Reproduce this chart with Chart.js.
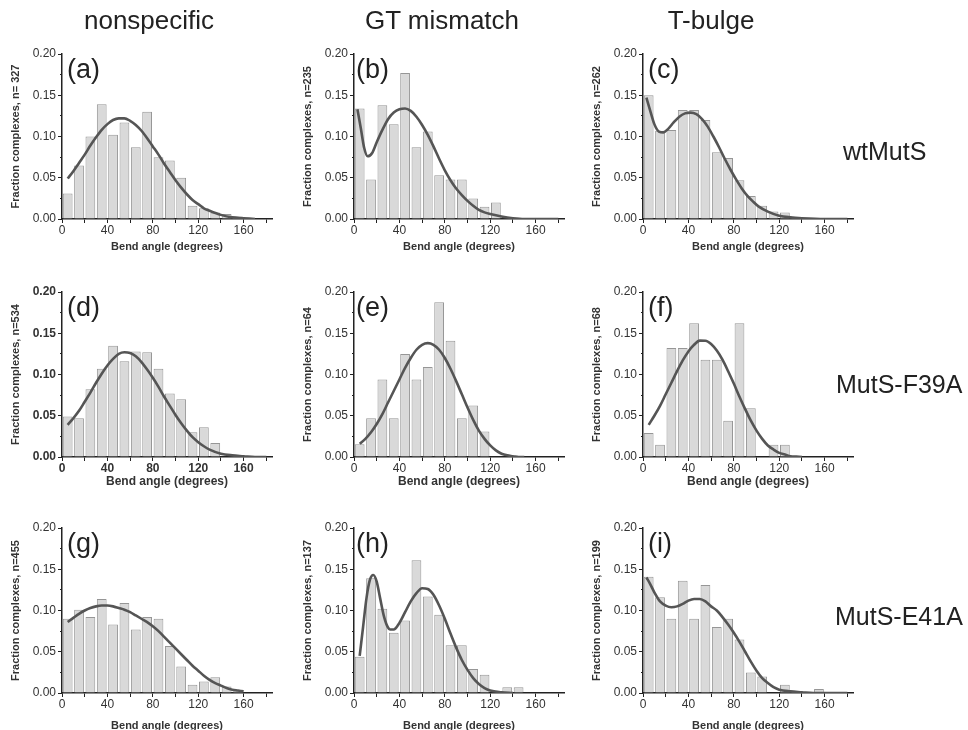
<!DOCTYPE html>
<html><head><meta charset="utf-8">
<script src="https://cdn.jsdelivr.net/npm/chart.js@4.4.0/dist/chart.umd.min.js"></script>
<style>
html,body{margin:0;padding:0;background:#fff;width:968px;height:730px;overflow:hidden;position:relative;font-family:"Liberation Sans",Arial,sans-serif;}
canvas{position:absolute;}
.lbl{position:absolute;color:#222;white-space:nowrap;line-height:1;}
</style></head><body>
<script>
// ---- data ----
const binCenters = [5,15,25,35,45,55,65,75,85,95,105,115,125,135,145,155,165,175];
const columnTitles = ["nonspecific","GT mismatch","T-bulge"];
const rowTitles = ["wtMutS","MutS-F39A","MutS-E41A"];
const panelLetters = ["(a)","(b)","(c)","(d)","(e)","(f)","(g)","(h)","(i)"];
const sampleSizes = ["n= 327","n=235","n=262","n=534","n=64","n=68","n=455","n=137","n=199"];
const xTitle = "Bend angle (degrees)";

const barsA = [0.031,0.065,0.100,0.139,0.102,0.117,0.087,0.130,0.075,0.071,0.050,0.016,0.013,0.008,0.006,0.003,0,0];
const barsB = [0.134,0.048,0.138,0.115,0.177,0.087,0.106,0.053,0.048,0.048,0.025,0.015,0.020,0,0,0,0,0];
const barsC = [0.150,0.107,0.108,0.132,0.132,0.120,0.081,0.074,0.047,0.028,0.016,0.009,0.008,0,0,0,0,0];
const barsD = [0.049,0.047,0.082,0.107,0.135,0.116,0.128,0.127,0.107,0.077,0.070,0.030,0.036,0.017,0,0,0,0];
const barsE = [0.0156,0.047,0.094,0.047,0.125,0.094,0.109,0.1875,0.141,0.047,0.0625,0.031,0,0,0,0,0,0];
const barsF = [0.029,0.015,0.132,0.132,0.162,0.118,0.118,0.044,0.162,0.059,0,0.015,0.015,0,0,0,0,0];
const barsG = [0.090,0.101,0.092,0.114,0.083,0.109,0.077,0.092,0.090,0.057,0.032,0.010,0.014,0.019,0.008,0.002,0,0];
const barsH = [0.044,0.139,0.102,0.073,0.088,0.161,0.117,0.095,0.058,0.058,0.029,0.022,0,0.007,0.007,0,0,0];
const barsI = [0.141,0.116,0.090,0.136,0.090,0.131,0.080,0.090,0.065,0.025,0.020,0,0.010,0,0,0.005,0,0];

const curveXA = [5,10,15,20,25,30,35,40,45,50,55,60,65,70,75,80,85,90,95,100,105,110,115,120,125,130,140,150,160,170];
const curveYA = [0.049,0.058,0.068,0.078,0.089,0.099,0.108,0.115,0.120,0.122,0.122,0.119,0.114,0.107,0.098,0.088,0.078,0.067,0.057,0.047,0.038,0.030,0.023,0.018,0.013,0.010,0.005,0.002,0.001,0];
const curveXB = [3,6,9,12,16,20,25,30,35,40,45,50,55,60,65,70,75,80,85,90,95,100,105,110,115,120,130,140,150,165,180];
const curveYB = [0.133,0.110,0.086,0.076,0.080,0.093,0.108,0.121,0.129,0.133,0.134,0.131,0.124,0.114,0.102,0.088,0.073,0.059,0.047,0.037,0.029,0.022,0.016,0.011,0.008,0.006,0.003,0.001,0,0,0];
const curveXC = [3,6,10,14,18,22,27,32,37,42,47,52,57,62,67,72,77,82,87,92,97,102,110,120,130,140,160,180];
const curveYC = [0.147,0.133,0.115,0.106,0.105,0.109,0.117,0.124,0.128,0.129,0.127,0.121,0.112,0.100,0.087,0.073,0.060,0.048,0.037,0.028,0.021,0.015,0.009,0.004,0.002,0.001,0,0];
const curveXD = [5,10,15,20,25,30,35,40,45,50,55,60,65,70,75,80,85,90,95,100,105,110,115,120,125,130,140,150,160,170,180];
const curveYD = [0.039,0.047,0.056,0.067,0.078,0.090,0.101,0.111,0.119,0.125,0.127,0.126,0.122,0.115,0.106,0.096,0.085,0.073,0.062,0.051,0.041,0.032,0.024,0.018,0.013,0.009,0.004,0.002,0.001,0,0];
const curveXE = [5,10,15,20,25,30,35,40,45,50,55,60,65,70,75,80,85,90,95,100,105,110,115,120,125,130,135,140,145,150];
const curveYE = [0.016,0.022,0.030,0.040,0.052,0.066,0.080,0.094,0.108,0.120,0.130,0.136,0.138,0.136,0.130,0.120,0.107,0.092,0.076,0.060,0.045,0.032,0.022,0.014,0.008,0.004,0.002,0.001,0,0];
const curveXF = [5,10,15,20,25,30,35,40,45,50,55,60,65,70,75,80,85,90,95,100,105,110,115,120,125,130,135,140];
const curveYF = [0.039,0.050,0.062,0.076,0.090,0.104,0.117,0.128,0.136,0.141,0.141,0.137,0.129,0.118,0.104,0.089,0.073,0.058,0.044,0.032,0.022,0.014,0.009,0.005,0.003,0.001,0.0005,0];
const curveXG = [5,10,15,20,25,30,35,40,45,50,55,60,65,70,75,80,85,90,95,100,105,110,115,120,125,130,135,140,145,150,155,160];
const curveYG = [0.086,0.091,0.096,0.100,0.103,0.105,0.106,0.106,0.105,0.103,0.101,0.098,0.094,0.090,0.086,0.081,0.075,0.068,0.061,0.054,0.047,0.040,0.033,0.027,0.021,0.016,0.012,0.009,0.006,0.004,0.003,0.002];
const curveXH = [5,8,11,14,17,20,23,26,29,32,35,40,45,50,55,60,65,70,75,80,85,90,95,100,105,110,115,120,130,140];
const curveYH = [0.045,0.080,0.115,0.137,0.143,0.135,0.115,0.095,0.082,0.077,0.077,0.085,0.098,0.111,0.121,0.127,0.126,0.119,0.106,0.090,0.072,0.055,0.040,0.028,0.018,0.011,0.006,0.003,0.001,0];
const curveXI = [3,6,10,15,20,25,30,35,40,45,50,55,60,65,70,75,80,85,90,95,100,105,110,115,120,130,140,150,165,180];
const curveYI = [0.140,0.133,0.122,0.111,0.106,0.104,0.105,0.108,0.112,0.114,0.114,0.111,0.105,0.100,0.092,0.083,0.073,0.062,0.050,0.038,0.027,0.018,0.012,0.007,0.004,0.002,0.001,0,0,0];

const allBars = [barsA,barsB,barsC,barsD,barsE,barsF,barsG,barsH,barsI];
const allCurveX = [curveXA,curveXB,curveXC,curveXD,curveXE,curveXF,curveXG,curveXH,curveXI];
const allCurveY = [curveYA,curveYB,curveYC,curveYD,curveYE,curveYF,curveYG,curveYH,curveYI];

// ---- layout ----
const colLeft = [62, 354, 643];
const rowTop = [54, 292, 528];
const plotW = 210, plotH = 165;
const yBoxW = 58, topPad = 10, rightPad = 4;
const xBoxH = [36, 33, 41];
const xTitleSize = [11, 12, 11];

function addLabel(text, left, top, size, extra) {
  const d = document.createElement('div');
  d.className = 'lbl';
  d.textContent = text;
  d.style.left = left + 'px';
  d.style.top = top + 'px';
  d.style.fontSize = size + 'px';
  if (extra) Object.assign(d.style, extra);
  document.body.appendChild(d);
  return d;
}

const isMajorY = v => Math.round(v * 1000) % 50 === 0;
const FONT = "'Liberation Sans', Arial, sans-serif";
for (let p = 0; p < 9; p++) {
  const r = Math.floor(p / 3), c = p % 3;
  const cv = document.createElement('canvas');
  const W = yBoxW + plotW + rightPad, H = topPad + plotH + xBoxH[r];
  cv.width = W; cv.height = H;
  cv.style.width = W + 'px'; cv.style.height = H + 'px';
  cv.style.left = (colLeft[c] - yBoxW) + 'px';
  cv.style.top = (rowTop[r] - topPad) + 'px';
  document.body.appendChild(cv);
  const boldTicks = (p === 3);
  new Chart(cv, {
    type: 'bar',
    data: {
      datasets: [
        { type: 'line', order: 0,
          data: allCurveX[p].map((x, i) => ({x: x, y: allCurveY[p][i]})),
          borderColor: '#555555', borderWidth: 2.6, pointRadius: 0, fill: false,
          cubicInterpolationMode: 'monotone' },
        { type: 'bar', order: 1,
          data: binCenters.map((x, i) => ({x: x, y: allBars[p][i]})),
          backgroundColor: '#d9d9d9', borderColor: '#969696', borderWidth: 1,
          barPercentage: 0.86, categoryPercentage: 1 }
      ]
    },
    options: {
      responsive: false, animation: false, devicePixelRatio: 1,
      layout: { padding: { top: topPad, right: rightPad, left: 0, bottom: 0 } },
      plugins: { legend: { display: false }, tooltip: { enabled: false } },
      scales: {
        x: {
          type: 'linear', min: 0, max: 185, offset: false,
          grid: { display: true, offset: false, drawOnChartArea: false, drawTicks: true, tickLength: 4, color: '#222' },
          border: { display: true, color: '#222', width: 1.5 },
          ticks: { stepSize: 20, includeBounds: false, autoSkip: false, maxRotation: 0, padding: 0,
                   color: '#333', font: { family: FONT, size: 12, weight: boldTicks ? 'bold' : 'normal' },
                   callback: v => (v % 40 === 0 ? String(v) : '') },
          title: { display: true, text: xTitle, color: '#333',
                   font: { family: FONT, size: xTitleSize[r], weight: 'bold' }, padding: { top: 0, bottom: 1 } },
          afterFit: s => { s.height = xBoxH[r]; }
        },
        y: {
          min: 0, max: 0.2,
          grid: { display: true, drawOnChartArea: false, drawTicks: true, tickLength: 4, color: '#222',
                  tickBorderDash: ctx => (ctx.tick && !isMajorY(ctx.tick.value)) ? [2, 2] : [],
                  tickBorderDashOffset: ctx => (ctx.tick && !isMajorY(ctx.tick.value)) ? 2 : 0 },
          border: { display: true, color: '#222', width: 1.5 },
          ticks: { stepSize: 0.025, autoSkip: false, padding: 2, color: '#333',
                   font: { family: FONT, size: 12, weight: boldTicks ? 'bold' : 'normal' },
                   callback: v => (isMajorY(v) ? v.toFixed(2) : '') },
          title: { display: true, text: 'Fraction complexes, ' + sampleSizes[p], color: '#333',
                   font: { family: FONT, size: 11, weight: 'bold' }, padding: { top: 5, bottom: 0 } },
          afterFit: s => { s.width = yBoxW; }
        }
      }
    }
  });
  addLabel(panelLetters[p], colLeft[c] + (c === 1 ? 2 : 5), rowTop[r] + 2, 27);
}

// column and row titles
const colCenters = [149, 442, 711];
columnTitles.forEach((t, i) => {
  const d = addLabel(t, colCenters[i], 7, 26);
  d.style.transform = 'translateX(-50%)';
});
const rowLeft = [843, 836, 835];
const rowMid = [152, 385, 617];
rowTitles.forEach((t, i) => { addLabel(t, rowLeft[i], rowMid[i] - 13, 25); });
</script>
</body></html>
